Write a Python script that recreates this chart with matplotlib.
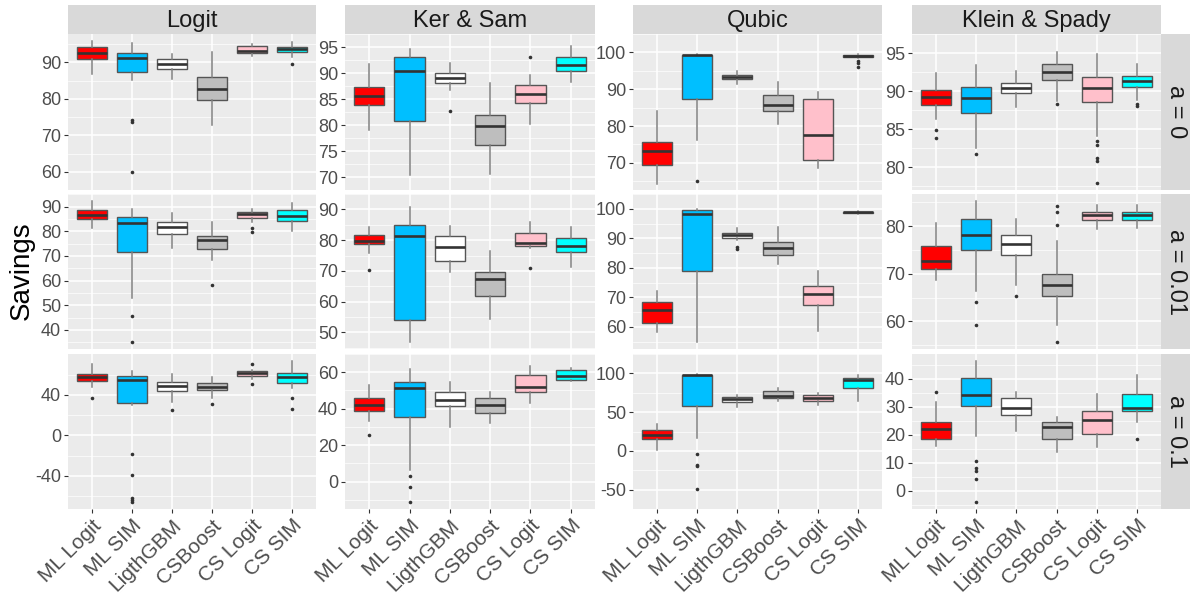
import numpy as np
import matplotlib.pyplot as plt

plt.rcParams['font.family'] = ['Liberation Sans', 'DejaVu Sans']
plt.rcParams['axes.unicode_minus'] = False

methods = ["ML Logit", "ML SIM", "LigthGBM", "CSBoost", "CS Logit", "CS SIM"]
datasets = ["Logit", "Ker & Sam", "Qubic", "Klein & Spady"]
alphas = ["a = 0", "a = 0.01", "a = 0.1"]
fills = ["#FF0000", "#00BFFF", "#FFFFFF", "#BEBEBE", "#FFC0CB", "#00FFFF"]

# five-number summaries per method: (whisker low, q1, median, q3, whisker high)
logit_a0 = [(86.9, 91.0, 92.6, 94.1, 96.0), (85.1, 87.3, 91.3, 92.6, 95.4),
            (85.4, 88.1, 89.5, 91.0, 92.4), (72.7, 79.6, 82.6, 85.9, 92.8),
            (91.8, 92.6, 93.2, 94.4, 95.1), (91.4, 92.8, 93.7, 94.3, 95.5)]
logit_a0_out = [[], [74.2, 73.6, 60.0], [], [], [], [89.5]]

kersam_a0 = [(79.0, 83.8, 85.6, 87.4, 91.8), (70.3, 80.7, 90.4, 93.1, 94.6),
             (86.8, 88.0, 89.1, 90.0, 91.9), (70.6, 76.2, 79.8, 82.0, 88.0),
             (80.1, 84.2, 85.9, 87.6, 89.7), (88.3, 90.4, 91.6, 93.1, 95.1)]
kersam_a0_out = [[], [], [82.7], [], [93.1], []]

qubic_a0 = [(64.4, 69.5, 73.2, 75.8, 84.0), (76.2, 87.4, 99.2, 99.3, 99.5),
            (91.4, 92.8, 93.3, 93.9, 94.9), (80.5, 84.1, 85.6, 88.5, 92.1),
            (68.6, 70.8, 77.5, 87.3, 89.3), (98.5, 98.7, 99.0, 99.2, 99.5)]
qubic_a0_out = [[], [65.0], [], [], [], [97.6, 97.1, 96.0]]

klein_a0 = [(86.3, 88.2, 89.3, 90.1, 92.4), (82.6, 87.2, 89.1, 90.5, 93.4),
            (87.9, 89.7, 90.4, 91.1, 92.7), (88.7, 91.5, 92.5, 93.5, 95.1),
            (84.1, 88.6, 90.4, 91.8, 94.9), (88.9, 90.6, 91.3, 92.0, 93.5)]
klein_a0_out = [[84.9, 83.9], [81.8], [], [88.3],
                [83.5, 82.9, 81.2, 80.8, 77.9], [88.3, 88.0]]

logit_a001 = [(81.5, 85.0, 86.7, 88.5, 92.3), (53.0, 71.7, 83.4, 85.9, 89.1),
              (73.2, 78.8, 81.7, 83.9, 87.4), (68.3, 72.9, 76.4, 78.2, 83.8),
              (83.6, 85.4, 87.2, 87.8, 88.9), (80.0, 84.3, 86.3, 88.5, 91.5)]
logit_a001_out = [[], [45.7, 35.1], [], [58.3], [81.3, 79.8], []]

kersam_a001 = [(75.8, 78.6, 79.8, 81.6, 84.4), (46.8, 54.1, 81.5, 85.0, 90.8),
               (69.5, 73.2, 77.8, 81.2, 84.6), (54.3, 61.8, 67.4, 69.6, 76.6),
               (77.4, 78.2, 79.2, 82.2, 85.9), (71.4, 76.0, 78.2, 80.7, 84.3)]
kersam_a001_out = [[70.2], [], [], [], [70.9], []]

qubic_a001 = [(58.3, 61.5, 65.7, 68.5, 72.3), (54.8, 79.0, 98.1, 99.6, 99.8),
              (89.5, 90.1, 91.0, 91.8, 93.4), (81.3, 84.4, 86.7, 88.9, 93.8),
              (58.5, 67.3, 71.3, 73.8, 78.8), (98.3, 98.5, 98.8, 99.0, 99.1)]
qubic_a001_out = [[], [], [87.0, 86.4], [], [], []]

klein_a001 = [(68.8, 71.1, 72.8, 75.9, 80.7), (66.3, 75.1, 78.2, 81.5, 85.3),
              (67.7, 73.9, 76.3, 78.2, 81.5), (59.3, 65.3, 67.6, 70.0, 76.9),
              (79.4, 81.4, 82.4, 83.1, 84.5), (79.6, 81.3, 82.4, 83.1, 84.5)]
klein_a001_out = [[], [64.1, 59.2], [65.3], [84.2, 83.1, 80.3, 55.7], [], []]

logit_a01 = [(47.9, 54.1, 58.0, 61.0, 70.8), (29.5, 31.5, 55.1, 59.0, 63.6),
             (32.5, 43.3, 48.9, 52.8, 61.0), (36.4, 44.3, 47.9, 51.8, 57.7),
             (56.0, 59.0, 61.3, 63.6, 65.0), (47.2, 52.1, 58.0, 62.0, 73.4)]
logit_a01_out = [[37.0], [-18.7, -39.3, -62.0, -63.9, -65.9], [24.6], [30.5],
                 [70.8, 51.1], [36.4, 25.6]]

kersam_a01 = [(33.1, 38.7, 41.9, 45.7, 53.0), (6.3, 35.2, 51.4, 54.5, 61.8),
              (29.7, 41.2, 44.7, 49.4, 54.4), (32.4, 37.5, 41.9, 45.9, 48.9),
              (42.9, 48.9, 52.1, 58.4, 63.3), (55.3, 55.6, 58.2, 61.2, 62.3)]
kersam_a01_out = [[25.7], [2.8, -3.0, -11.3], [], [], [], []]

qubic_a01 = [(0.8, 15.5, 21.1, 27.1, 34.8), (16.6, 58.3, 97.5, 97.9, 98.6),
             (56.9, 63.5, 66.7, 69.9, 72.7), (65.0, 68.1, 70.6, 76.9, 80.7),
             (58.6, 64.6, 68.8, 72.3, 74.8), (65.0, 81.4, 90.9, 93.7, 98.2)]
qubic_a01_out = [[], [-3.7, -17.8, -19.9, -49.3], [], [], [], []]

klein_a01 = [(16.0, 18.6, 21.9, 24.5, 31.7), (19.5, 30.4, 34.2, 40.2, 46.3),
             (21.2, 27.0, 29.5, 33.1, 35.4), (14.0, 18.5, 22.6, 24.5, 26.2),
             (15.7, 20.4, 25.4, 28.5, 34.4), (24.5, 28.3, 29.5, 34.4, 41.2)]
klein_a01_out = [[35.4], [10.7, 8.1, 7.0, 4.3, -4.0], [], [], [], [18.3]]

panel_stats = [[logit_a0, kersam_a0, qubic_a0, klein_a0],
               [logit_a001, kersam_a001, qubic_a001, klein_a001],
               [logit_a01, kersam_a01, qubic_a01, klein_a01]]
panel_out = [[logit_a0_out, kersam_a0_out, qubic_a0_out, klein_a0_out],
             [logit_a001_out, kersam_a001_out, qubic_a001_out, klein_a001_out],
             [logit_a01_out, kersam_a01_out, qubic_a01_out, klein_a01_out]]

y_ticks = [[[60, 70, 80, 90], [70, 75, 80, 85, 90, 95], [70, 80, 90, 100], [80, 85, 90, 95]],
           [[40, 50, 60, 70, 80, 90], [50, 60, 70, 80, 90], [60, 70, 80, 90, 100], [60, 70, 80]],
           [[-40, 0, 40], [0, 20, 40, 60], [-50, 0, 50, 100], [0, 10, 20, 30, 40]]]

# layout in pixels
W, H = 1192, 594
col_x = [(68, 316), (345, 595), (633, 882), (912, 1161)]
row_y = [(34, 190), (194, 349), (354, 509)]
strip_top = 5
strip_right = 1190


def frac(x0, y0, x1, y1):
    return [x0 / W, 1 - y1 / H, (x1 - x0) / W, (y1 - y0) / H]


fig = plt.figure(figsize=(W / 100, H / 100), dpi=100)
pos = np.arange(1, len(methods) + 1)

for r in range(3):
    for c in range(4):
        ax = fig.add_axes(frac(col_x[c][0], row_y[r][0], col_x[c][1], row_y[r][1]))
        ax.set_facecolor("#EBEBEB")
        for s in ax.spines.values():
            s.set_visible(False)

        stats = []
        for (lo, q1, med, q3, hi), fl in zip(panel_stats[r][c], panel_out[r][c]):
            stats.append(dict(whislo=lo, q1=q1, med=med, q3=q3, whishi=hi, fliers=fl))
        bp = ax.bxp(stats, positions=pos, widths=0.75, patch_artist=True,
                    showcaps=False, zorder=3,
                    boxprops=dict(edgecolor="#555555", linewidth=1.0),
                    medianprops=dict(color="#333333", linewidth=1.9),
                    whiskerprops=dict(color="#808080", linewidth=1.1),
                    flierprops=dict(marker="o", markersize=2.6, markerfacecolor="#333333",
                                    markeredgecolor="none"))
        for patch, fc in zip(bp["boxes"], fills):
            patch.set_facecolor(fc)

        # y range from whiskers and outliers, padded like ggplot
        vals = [v for st in panel_stats[r][c] for v in (st[0], st[4])]
        vals += [v for fl in panel_out[r][c] for v in fl]
        lo, hi = min(vals), max(vals)
        pad = 0.05 * (hi - lo)
        ax.set_ylim(lo - pad, hi + pad)
        ax.set_xlim(0.4, 6.6)

        ticks = y_ticks[r][c]
        ax.set_yticks(ticks)
        step = ticks[1] - ticks[0]
        ax.set_yticks(np.arange(ticks[0] - step / 2, ticks[-1] + step, step), minor=True)
        ax.set_xticks(pos)
        ax.grid(True, which="major", color="white", linewidth=1.1, zorder=0)
        ax.grid(True, which="minor", axis="y", color="white", linewidth=0.5, zorder=0)
        ax.set_axisbelow(True)
        ax.tick_params(axis="y", which="major", length=3, width=0.8, color="#333333",
                       labelsize=13, labelcolor="#4D4D4D", pad=2)
        ax.tick_params(axis="y", which="minor", length=0)
        if r == 2:
            ax.set_xticklabels(methods, rotation=45, ha="right", va="top",
                               rotation_mode="anchor", fontsize=15, color="#4D4D4D")
            ax.tick_params(axis="x", length=3, width=0.8, color="#333333", pad=2)
        else:
            ax.tick_params(axis="x", length=0, labelbottom=False)

        # column strips
        if r == 0:
            sax = fig.add_axes(frac(col_x[c][0], strip_top, col_x[c][1], row_y[0][0]))
            sax.set_facecolor("#D9D9D9")
            sax.set_xticks([])
            sax.set_yticks([])
            for s in sax.spines.values():
                s.set_visible(False)
            sax.text(0.5, 0.45, datasets[c], ha="center", va="center",
                     fontsize=17, color="#1A1A1A", transform=sax.transAxes)

    # row strips
    rax = fig.add_axes(frac(col_x[3][1], row_y[r][0], strip_right, row_y[r][1]))
    rax.set_facecolor("#D9D9D9")
    rax.set_xticks([])
    rax.set_yticks([])
    for s in rax.spines.values():
        s.set_visible(False)
    rax.text(0.5, 0.5, alphas[r], ha="center", va="center", rotation=270,
             fontsize=17, color="#1A1A1A", transform=rax.transAxes)

fig.text(22 / W, 1 - 271 / H, "Savings", rotation=90, ha="center", va="center",
         fontsize=20, color="black")

fig.savefig("out.png", dpi=100, facecolor="white")
